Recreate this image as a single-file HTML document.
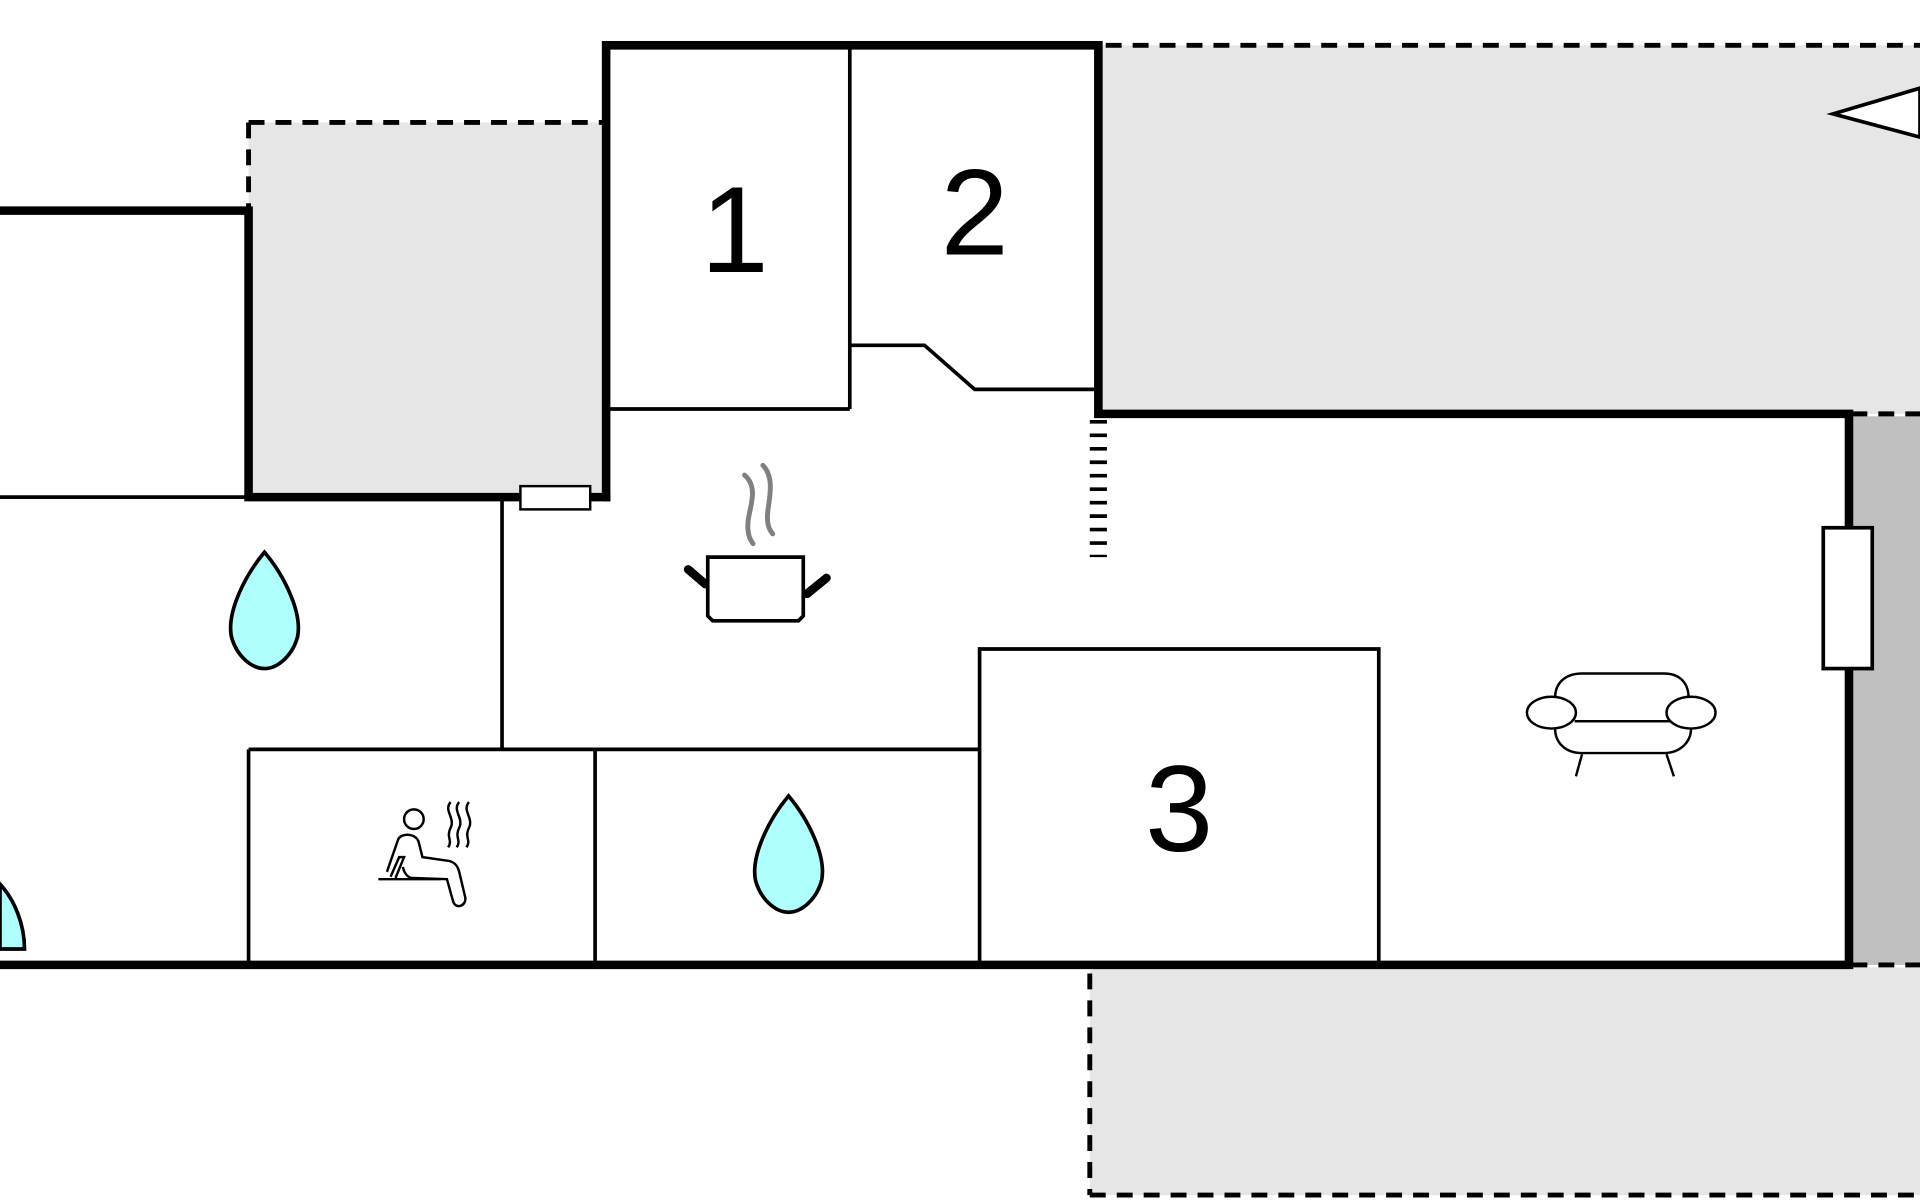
<!DOCTYPE html>
<html><head><meta charset="utf-8"><style>html,body{margin:0;padding:0;background:#fff}svg{display:block}</style></head>
<body>
<svg width="1920" height="1200" viewBox="0 0 1568 980" xmlns="http://www.w3.org/2000/svg" font-family="Liberation Sans, sans-serif">
<rect x="900" y="37" width="668" height="301" fill="#e6e6e6"/>
<rect x="1510" y="340" width="58" height="448" fill="#c0c0c0"/>
<rect x="890" y="790" width="678" height="186" fill="#e6e6e6"/>
<rect x="203" y="100" width="290" height="306" fill="#e6e6e6"/>
<g stroke="#000" stroke-width="4" stroke-dasharray="13,9" fill="none">
<line x1="903" y1="37" x2="1568" y2="37"/>
<line x1="1512" y1="338" x2="1568" y2="338"/>
<line x1="1512" y1="788" x2="1568" y2="788"/>
<line x1="890" y1="795" x2="890" y2="976"/>
<line x1="890" y1="976" x2="1568" y2="976"/>
<line x1="203" y1="100" x2="492" y2="100"/>
<line x1="203" y1="100" x2="203" y2="170"/>
</g>
<line x1="897" y1="343" x2="897" y2="455" stroke="#000" stroke-width="14" stroke-dasharray="3,8"/>
<polygon points="1568,72 1497,93 1568,112" fill="#fff" stroke="#000" stroke-width="3"/>
<g stroke="#000" stroke-width="3" fill="none">
<line x1="0" y1="406" x2="203" y2="406"/>
<line x1="694" y1="40" x2="694" y2="334"/>
<line x1="497" y1="334" x2="694" y2="334"/>
<polyline points="694,282 755,282 796,318 895,318"/>
<line x1="410" y1="408" x2="410" y2="612"/>
<line x1="203" y1="612" x2="800" y2="612"/>
<line x1="203" y1="612" x2="203" y2="788"/>
<line x1="486" y1="612" x2="486" y2="788"/>
<polyline points="800,788 800,530 1126,530 1126,788"/>
</g>
<g stroke="#000" stroke-width="7" fill="none" stroke-linecap="square">
<polyline points="495,406 495,37 897,37 897,338 1510,338 1510,788 0,788"/>
<polyline points="0,172 203,172 203,406 495,406"/>
</g>
<rect x="425" y="397" width="57" height="19" fill="#fff" stroke="#000" stroke-width="2"/>
<rect x="1489" y="431" width="40" height="115" fill="#fff" stroke="#000" stroke-width="3"/>
<g font-size="100" text-anchor="middle" fill="#000">
<text x="600" y="222">1</text>
<text x="796" y="208">2</text>
<text x="963" y="695">3</text>
</g>
<g fill="#b0ffff" stroke="#000" stroke-width="3">
<path d="M216,451 C200,470 185,500 189,520 C193,535 205,546 216,546 C227,546 239,535 243,520 C247,500 232,470 216,451Z"/>
<path d="M644,650 C628,669 613,699 617,719 C621,734 633,745 644,745 C655,745 667,734 671,719 C675,699 660,669 644,650Z"/>
<path d="M0,722 C12,735 20,755 20,775 L0,775Z"/>
</g>
<g stroke="#808080" stroke-width="4" fill="none" stroke-linecap="round">
<path d="M608,388 C620,398 612,415 611,425 C610,435 612,440 615,444"/>
<path d="M623,380 C633,390 628,408 627,418 C626,428 628,432 631,436"/>
</g>
<g stroke="#000" stroke-width="3" fill="#fff">
<path d="M578,455 L656,455 L656,503 L652,507 L582,507 L578,503 Z"/>
</g>
<g stroke="#000" stroke-width="7" stroke-linecap="round">
<line x1="576" y1="477" x2="562" y2="465"/>
<line x1="659" y1="485" x2="675" y2="472"/>
</g>
<g stroke="#000" stroke-width="2" fill="none">
<circle cx="338" cy="669" r="8"/>
<path d="M316,712 L325,686 C327,680 340,680 342,688 L345,700 L366,703 C372,704 374,708 375,712 L380,733 C381,740 372,743 370,736 L365,718 L337,717 C333,717 330,713 329,708"/>
<line x1="309" y1="718" x2="360" y2="718"/>
<path d="M319,716 L326,700 L330,700 L323,717"/>
<path d="M368,655 C362,662 372,668 368,676 C364,684 370,686 366,692"/>
<path d="M375,655 C369,662 379,668 375,676 C371,684 377,686 373,692"/>
<path d="M383,655 C377,662 387,668 383,676 C379,684 385,686 381,692"/>
<path d="M1270,570 C1270,558 1278,550 1292,550 L1359,550 C1372,550 1379,558 1379,570"/>
<path d="M1270,595 C1270,606 1278,615 1292,615 L1359,615 C1372,615 1381,606 1381,595"/>
<line x1="1286" y1="589" x2="1364" y2="589"/>
<ellipse cx="1267" cy="582" rx="20" ry="13"/>
<ellipse cx="1381" cy="582" rx="20" ry="13"/>
<line x1="1292" y1="616" x2="1287" y2="634"/>
<line x1="1361" y1="616" x2="1367" y2="634"/>
</g>
</svg>
</body></html>
